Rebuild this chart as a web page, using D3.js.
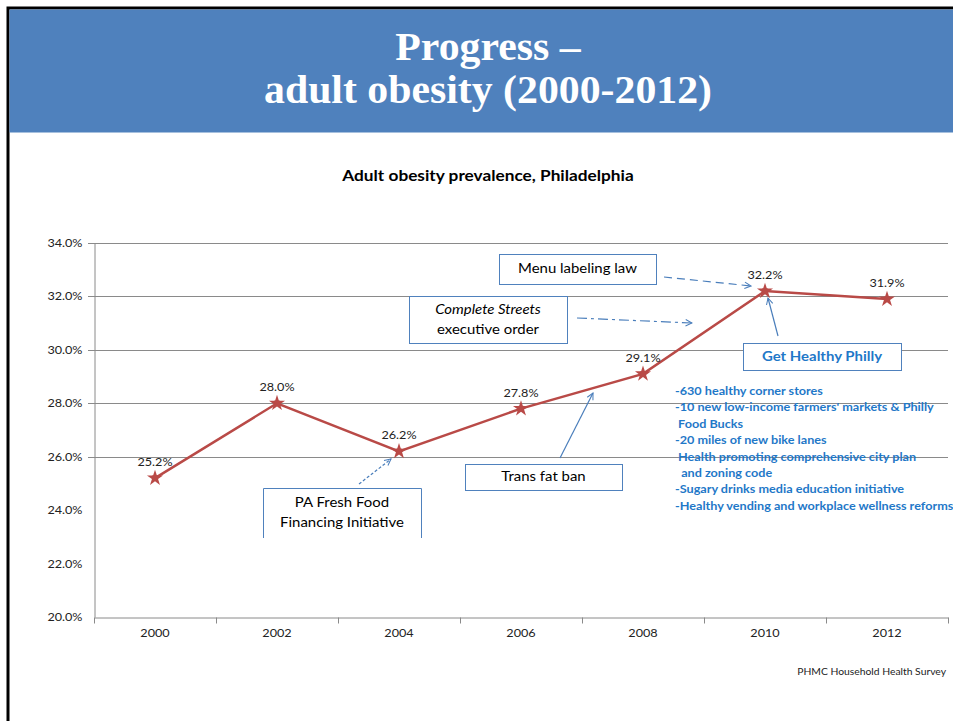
<!DOCTYPE html>
<html>
<head>
<meta charset="utf-8">
<script src="https://cdn.jsdelivr.net/npm/d3@7"></script>
<style>
  html, body { margin: 0; padding: 0; background: #fff; }
  svg { display: block; }
</style>
</head>
<body>
<svg id="chart" width="953" height="721"></svg>
<script>
// ---- data ----
const years = ["2000", "2002", "2004", "2006", "2008", "2010", "2012"];
const obesity = [25.2, 28.0, 26.2, 27.8, 29.1, 32.2, 31.9];
const yTicks = [20, 22, 24, 26, 28, 30, 32, 34];
const gridValues = [26, 28, 30, 32, 34];
const titleLines = ["Progress \u2013", "adult obesity (2000-2012)"];
const chartTitle = "Adult obesity prevalence, Philadelphia";
const sourceText = "PHMC Household Health Survey";
const initiatives = [
  "-630 healthy corner stores",
  "-10 new low-income farmers' markets & Philly",
  " Food Bucks",
  "-20 miles of new bike lanes",
  " Health promoting comprehensive city plan",
  "  and zoning code",
  "-Sugary drinks media education initiative",
  "-Healthy vending and workplace wellness reforms"
];

// ---- layout ----
const svg = d3.select("#chart");
const W = 953, H = 721;
const plotL = 94, plotR = 948, plotT = 243, plotB = 617;
const FONT = "Lato, 'Open Sans', sans-serif";
const BLUE = "#4F81BD";
const RED = "#B94A47";
const SX = 1.15; // horizontal stretch of the chart's text

// slide frame + header
svg.append("rect").attr("x", 0).attr("y", 0).attr("width", W).attr("height", H).attr("fill", "#fff");
svg.append("rect").attr("x", 8).attr("y", 8).attr("width", W).attr("height", H)
  .attr("fill", "none").attr("stroke", "#000").attr("stroke-width", 3);
svg.append("rect").attr("x", 9.5).attr("y", 9.5).attr("width", W).attr("height", 123).attr("fill", BLUE);
svg.selectAll("text.title").data(titleLines).join("text")
  .attr("class", "title")
  .attr("x", 488).attr("y", (d, i) => 60 + i * 43)
  .attr("text-anchor", "middle")
  .attr("font-family", "'Liberation Serif', 'DejaVu Serif', serif")
  .attr("font-weight", "bold").attr("font-size", 40).attr("fill", "#fff")
  .attr("transform", (d, i) => `translate(488,${60 + i * 43}) scale(1.045,1) translate(-488,${-(60 + i * 43)})`)
  .text(d => d);

const chart = svg.append("g").attr("class", "chart");

// chart title
chart.append("text").attr("x", 488).attr("y", 181).attr("text-anchor", "middle")
  .attr("font-family", FONT).attr("font-weight", "bold").attr("font-size", 15).attr("fill", "#000")
  .text(chartTitle);

// scales
const x = d3.scaleBand().domain(years).range([plotL, plotR]).padding(0);
const y = d3.scaleLinear().domain([20, 34]).range([plotB, plotT]);
const cx = d => x(d) + x.bandwidth() / 2;

// gridlines
chart.append("g").selectAll("line").data(gridValues).join("line")
  .attr("x1", plotL - 6).attr("x2", plotR)
  .attr("y1", d => Math.round(y(d)) + 0.5).attr("y2", d => Math.round(y(d)) + 0.5)
  .attr("stroke", "#8a8a8a").attr("stroke-width", 1);

// y axis
const yAxis = chart.append("g").attr("transform", `translate(${plotL + 0.5},0)`)
  .call(d3.axisLeft(y).tickValues(yTicks).tickSize(0).tickPadding(12)
    .tickFormat(d => d.toFixed(1) + "%"));
yAxis.select(".domain").attr("stroke", "#8a8a8a");
yAxis.selectAll("text").attr("font-family", FONT).attr("font-size", 11).attr("fill", "#222");

// x axis
const xAxis = chart.append("g").attr("transform", `translate(0,${plotB + 0.5})`)
  .call(d3.axisBottom(x).tickSize(0).tickPadding(12));
xAxis.select(".domain").attr("stroke", "#8a8a8a");
xAxis.selectAll("text").attr("font-family", FONT).attr("font-size", 11).attr("fill", "#222");
const bounds = years.map(d => x(d)).concat([x(years[years.length - 1]) + x.bandwidth()]);
xAxis.append("g").selectAll("line").data(bounds).join("line")
  .attr("x1", d => Math.round(d) + 0.5).attr("x2", d => Math.round(d) + 0.5)
  .attr("y1", 0).attr("y2", 6).attr("stroke", "#8a8a8a");

// line + markers
const data = years.map((yr, i) => ({ yr, v: obesity[i] }));
chart.append("path").datum(data)
  .attr("d", d3.line().x(d => cx(d.yr)).y(d => y(d.v)))
  .attr("fill", "none").attr("stroke", RED).attr("stroke-width", 2.5);
const mk = chart.append("g").selectAll("g").data(data).join("g")
  .attr("transform", d => `translate(${cx(d.yr)},${y(d.v)})`);
mk.append("path").attr("d", d3.symbol(d3.symbolStar, 80)).attr("fill", RED);
mk.append("path").attr("d", d3.symbol(d3.symbolSquare, 30)).attr("fill", RED);
chart.append("g").selectAll("text").data(data).join("text")
  .attr("x", d => cx(d.yr)).attr("y", d => y(d.v) - 12)
  .attr("text-anchor", "middle")
  .attr("font-family", FONT).attr("font-size", 11).attr("fill", "#222")
  .text(d => d.v.toFixed(1) + "%");

// ---- annotations ----
const defs = svg.append("defs");
defs.append("marker").attr("id", "arr").attr("viewBox", "0 0 10 10")
  .attr("refX", 9).attr("refY", 5).attr("markerWidth", 8).attr("markerHeight", 8)
  .attr("markerUnits", "userSpaceOnUse").attr("orient", "auto")
  .append("path").attr("d", "M1,1 L9,5 L1,9").attr("fill", "none")
  .attr("stroke", "#4A7EBB").attr("stroke-width", 1.3);

const boxes = [
  { x: 499, y: 254, w: 157, h: 30, lines: ["Menu labeling law"], italic: [false] },
  { x: 409, y: 296, w: 158, h: 47, lines: ["Complete Streets", "executive order"], italic: [true, false] },
  { x: 743, y: 343, w: 158, h: 27, lines: ["Get Healthy Philly"], italic: [false], blue: true },
  { x: 465, y: 464, w: 157, h: 26, lines: ["Trans fat ban"], italic: [false] },
  { x: 263, y: 488, w: 158, h: 50, lines: ["PA Fresh Food", "Financing Initiative"], italic: [false, false], open: true }
];
boxes.forEach(b => {
  const g = chart.append("g");
  if (b.open) {
    g.append("rect").attr("x", b.x).attr("y", b.y).attr("width", b.w).attr("height", b.h).attr("fill", "#fff");
    g.append("path").attr("d", `M${b.x + 0.5},${b.y + b.h} V${b.y + 0.5} H${b.x + b.w + 0.5} V${b.y + b.h}`)
      .attr("fill", "none").attr("stroke", BLUE).attr("stroke-width", 1);
  } else {
    g.append("rect").attr("x", b.x + 0.5).attr("y", b.y + 0.5).attr("width", b.w).attr("height", b.h)
      .attr("fill", "#fff").attr("stroke", BLUE).attr("stroke-width", 1);
  }
  const n = b.lines.length;
  const lh = 20;
  const y0 = b.y + b.h / 2 - (n - 1) * lh / 2 + 4.5;
  b.lines.forEach((t, i) => {
    g.append("text").attr("x", b.x + b.w / 2).attr("y", y0 + i * lh)
      .attr("text-anchor", "middle").attr("font-family", FONT)
      .attr("font-size", 13)
      .attr("font-weight", b.blue ? "bold" : "normal")
      .attr("font-style", b.italic[i] ? "italic" : "normal")
      .attr("fill", b.blue ? "#1F78C8" : "#000").text(t);
  });
});

const arrows = [
  { x1: 664, y1: 277, x2: 751, y2: 286, dash: "8,5" },
  { x1: 577, y1: 318, x2: 692, y2: 323, dash: "10,4,3,4" },
  { x1: 778, y1: 336, x2: 768, y2: 298, dash: null },
  { x1: 560, y1: 458, x2: 593, y2: 393, dash: null },
  { x1: 359, y1: 484, x2: 391, y2: 459, dash: "3,2" }
];
chart.append("g").selectAll("line").data(arrows).join("line")
  .attr("x1", d => d.x1).attr("y1", d => d.y1).attr("x2", d => d.x2).attr("y2", d => d.y2)
  .attr("stroke", "#4A7EBB").attr("stroke-width", 1.2)
  .attr("stroke-dasharray", d => d.dash)
  .attr("marker-end", "url(#arr)");

// initiatives list
chart.append("g").selectAll("text").data(initiatives).join("text")
  .attr("x", 675).attr("y", (d, i) => 395 + i * 16.4)
  .attr("font-family", FONT).attr("font-size", 11).attr("font-weight", "bold")
  .attr("fill", "#1F78C8")
  .style("white-space", "pre")
  .text(d => d);

// source
chart.append("text").attr("x", 946).attr("y", 675).attr("text-anchor", "end")
  .attr("font-family", FONT).attr("font-size", 9).attr("fill", "#222")
  .text(sourceText);

// stretch the chart's text horizontally about its own anchor point
chart.selectAll("text").each(function () {
  const t = d3.select(this);
  const ax = +(t.attr("x") || 0), ay = +(t.attr("y") || 0);
  t.attr("transform", `translate(${ax},${ay}) scale(${SX},1) translate(${-ax},${-ay})`);
});
</script>
</body>
</html>
